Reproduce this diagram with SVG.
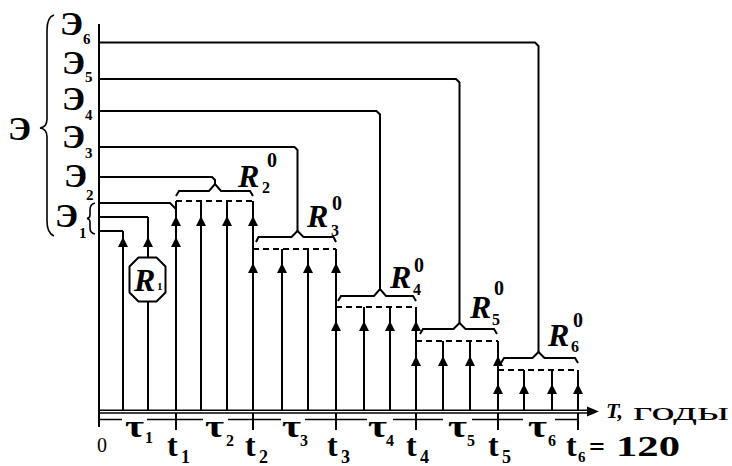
<svg xmlns="http://www.w3.org/2000/svg" width="732" height="466" viewBox="0 0 732 466">
<defs>
<path id="ar" d="M0,0 L5,10 L-5,10 Z" fill="#000"/>
</defs>
<style>
.ln{stroke:#000;stroke-width:2;fill:none}
.ds{stroke:#000;stroke-width:2;fill:none;stroke-dasharray:6 4}
.th{stroke:#000;stroke-width:1.6;fill:none}
text{font-family:'Liberation Serif','DejaVu Serif',serif;fill:#000}
.b{font-weight:bold}
.bi{font-weight:bold;font-style:italic}
</style>
<rect width="732" height="466" fill="#fff"/>

<g id="axis">
<line class="ln" x1="99" y1="24" x2="99" y2="427"/>
<line class="th" x1="99" y1="410.3" x2="590" y2="410.3"/>
<line class="th" x1="99" y1="413" x2="590" y2="413"/>
<path d="M599,411.6 L587,406.6 L587,416.6 Z" fill="#000"/>
<path class="th" d="M99,419.5H122 M147,419.5H203 M228,419.5H281 M305,419.5H367 M393,419.5H443 M472,419.5H523 M555,419.5H578"/>
<path class="ln" d="M176,413V430 M253,413V430 M336,413V430 M416,413V430 M498,413V430 M578,413V430"/>
</g>

<g id="connectors">
<path class="ln" d="M123,231V411 M148,217V411 M176,201V411 M201,201V411 M227,201V411 M253,201V411 M282,249V411 M308,249V411 M336,249V411 M364,307V411 M390,307V411 M416,307V411 M443,341V411 M470,341V411 M498,341V411 M524,370V411 M552,370V411 M578,370V411"/>
<path class="ln" d="M99,231H123 M99,217H148 M99,203H170L176,209"/>
<path class="ln" d="M99,177H212L215,180V184"/>
<path class="ln" d="M99,147H294.5L297.5,150V231"/>
<path class="ln" d="M99,111H376.5L380,114.5V289"/>
<path class="ln" d="M99,79H456L459.5,82.5V323"/>
<path class="ln" d="M99,42.5H535L538.5,46V352"/>
<path class="ln" d="M176,196L179,191H209L215,184L221,191H250L253,196"/>
<path class="ln" d="M256,242L258.5,237H291.5L297.5,231L303.5,237H333.5L336,242"/>
<path class="ln" d="M338,301L341,296H374L380,289L386,296H413L416,301"/>
<path class="ln" d="M420,334L423,329H453.5L459.5,323L465.5,329H494L497,334"/>
<path class="ln" d="M501,363L504,358H532.5L538.5,352L544.5,358H575L578,363"/>
<line class="ds" x1="176" y1="201" x2="253" y2="201"/>
<line class="ds" x1="253" y1="249" x2="336" y2="249"/>
<line class="ds" x1="336" y1="307" x2="416" y2="307"/>
<line class="ds" x1="416" y1="341" x2="498" y2="341"/>
<line class="ds" x1="498" y1="370" x2="578" y2="370"/>
<use href="#ar" x="123" y="237"/><use href="#ar" x="148" y="237"/><use href="#ar" x="176" y="237"/>
<use href="#ar" x="176" y="216"/><use href="#ar" x="201" y="216"/><use href="#ar" x="227" y="216"/><use href="#ar" x="253" y="216"/>
<use href="#ar" x="253" y="263"/><use href="#ar" x="282" y="263"/><use href="#ar" x="308" y="263"/><use href="#ar" x="336" y="263"/>
<use href="#ar" x="336" y="321"/><use href="#ar" x="364" y="321"/><use href="#ar" x="390" y="321"/><use href="#ar" x="416" y="321"/>
<use href="#ar" x="416" y="356"/><use href="#ar" x="443" y="356"/><use href="#ar" x="470" y="356"/><use href="#ar" x="498" y="356"/>
<use href="#ar" x="498" y="384"/><use href="#ar" x="524" y="384"/><use href="#ar" x="552" y="384"/><use href="#ar" x="578" y="384"/>
</g>

<g id="R1">
<polygon points="138.5,257.5 156.5,257.5 165.5,266.5 165.5,292.5 156.5,301.5 138.5,301.5 129.5,292.5 129.5,266.5" fill="#fff" stroke="#000" stroke-width="2"/>
<text class="bi" x="134" y="291" font-size="32">R</text>
<text class="b" x="157" y="290" font-size="11">1</text>
</g>

<g id="E-labels">
<path class="th" d="M54,15 Q47,17 47,30 L47,119 Q47,127 40,128 Q47,129 47,137 L47,221 Q47,233 54,236"/>
<text class="b" x="8" y="140" font-size="34">Э</text>
<text class="b" x="60" y="35" font-size="34">Э</text><text class="b" x="83" y="44" font-size="15">6</text>
<text class="b" x="62" y="74" font-size="34">Э</text><text class="b" x="85" y="82" font-size="15">5</text>
<text class="b" x="62" y="110" font-size="34">Э</text><text class="b" x="85" y="120" font-size="15">4</text>
<text class="b" x="62" y="148" font-size="34">Э</text><text class="b" x="85" y="158" font-size="15">3</text>
<text class="b" x="64" y="187" font-size="34">Э</text><text class="b" x="86" y="200" font-size="15">2</text>
<text class="b" x="55" y="227" font-size="34">Э</text><text class="b" x="79" y="238" font-size="15">1</text>
<path class="th" d="M95,203 Q90,204 90,210 L90,215 Q90,218 87,218.5 Q90,219 90,222 L90,228 Q90,233 95,234"/>
</g>

<g id="R-labels">
<text class="bi" x="238" y="187" font-size="32">R</text><text class="b" x="262" y="193" font-size="16">2</text><text class="b" x="267" y="167" font-size="20">0</text>
<text class="bi" x="307" y="227" font-size="32">R</text><text class="b" x="331" y="236" font-size="16">3</text><text class="b" x="332" y="210" font-size="20">0</text>
<text class="bi" x="390" y="288" font-size="32">R</text><text class="b" x="413" y="295" font-size="16">4</text><text class="b" x="414" y="272" font-size="20">0</text>
<text class="bi" x="470" y="318" font-size="32">R</text><text class="b" x="492" y="325" font-size="16">5</text><text class="b" x="494" y="295" font-size="20">0</text>
<text class="bi" x="548" y="346" font-size="32">R</text><text class="b" x="571" y="352" font-size="16">6</text><text class="b" x="573" y="327" font-size="20">0</text>
</g>

<g id="axis-labels">
<text x="97" y="452" font-size="20">0</text>
<text class="b" x="125" y="437" font-size="32" textLength="19" lengthAdjust="spacingAndGlyphs">τ</text><text class="b" x="145" y="443" font-size="16">1</text>
<text class="b" x="205" y="437" font-size="32" textLength="19" lengthAdjust="spacingAndGlyphs">τ</text><text class="b" x="226" y="446" font-size="16">2</text>
<text class="b" x="282" y="437" font-size="32" textLength="19" lengthAdjust="spacingAndGlyphs">τ</text><text class="b" x="300" y="446" font-size="16">3</text>
<text class="b" x="368" y="437" font-size="32" textLength="19" lengthAdjust="spacingAndGlyphs">τ</text><text class="b" x="386" y="446" font-size="16">4</text>
<text class="b" x="448" y="437" font-size="32" textLength="19" lengthAdjust="spacingAndGlyphs">τ</text><text class="b" x="467" y="446" font-size="16">5</text>
<text class="b" x="528" y="437" font-size="32" textLength="19" lengthAdjust="spacingAndGlyphs">τ</text><text class="b" x="548" y="446" font-size="16">6</text>
<text class="b" x="167" y="456" font-size="32">t</text><text class="b" x="181" y="463" font-size="18">1</text>
<text class="b" x="245" y="456" font-size="32">t</text><text class="b" x="259" y="463" font-size="18">2</text>
<text class="b" x="327" y="456" font-size="32">t</text><text class="b" x="341" y="463" font-size="18">3</text>
<text class="b" x="406" y="456" font-size="32">t</text><text class="b" x="420" y="463" font-size="18">4</text>
<text class="b" x="488" y="456" font-size="32">t</text><text class="b" x="502" y="463" font-size="18">5</text>
<text class="b" x="566" y="456" font-size="32">t</text><text class="b" x="578" y="462" font-size="15">6</text>
<text class="b" x="589" y="456" font-size="28">=</text>
<text class="b" x="616" y="456" font-size="30" textLength="64" lengthAdjust="spacingAndGlyphs">120</text>
<text class="bi" x="606" y="418" font-size="22">T,</text>
<text x="633" y="420" font-size="26" textLength="96" lengthAdjust="spacingAndGlyphs">годы</text>
</g>
</svg>
